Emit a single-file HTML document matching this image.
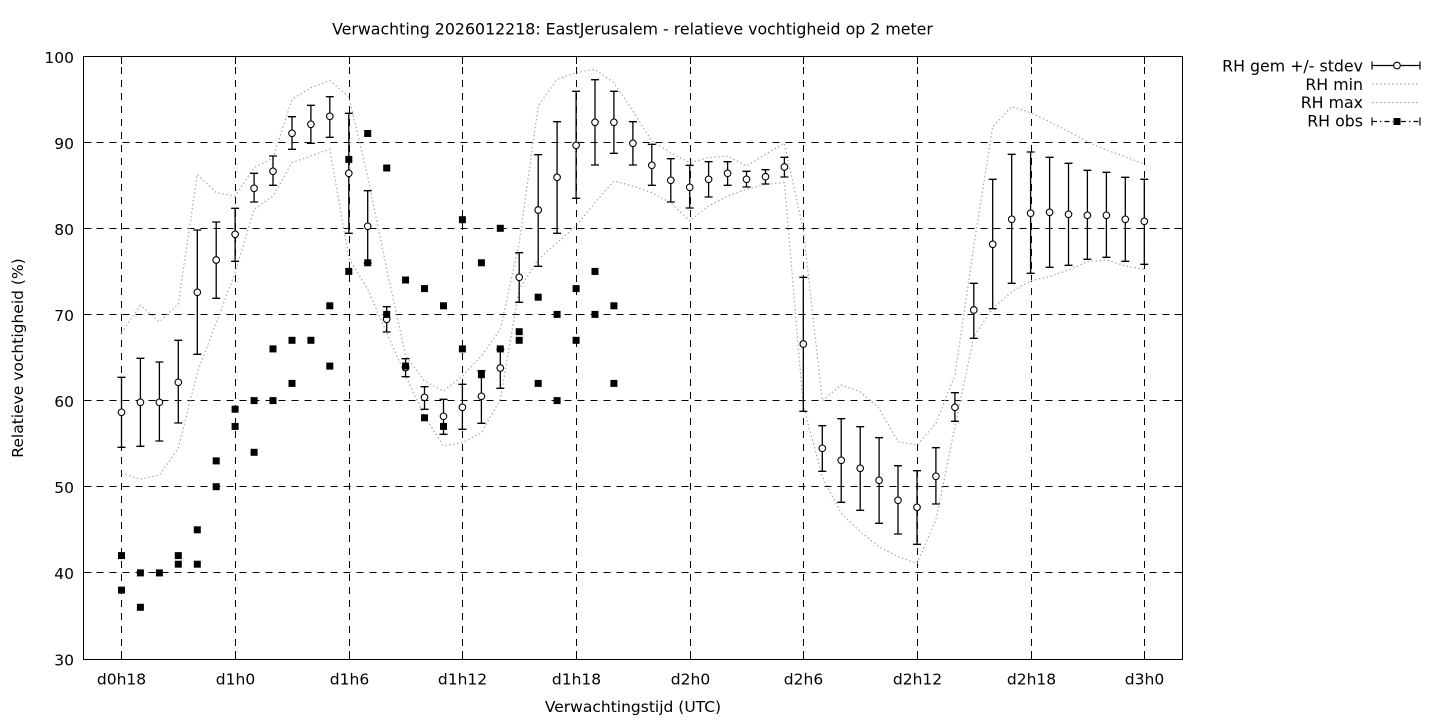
<!DOCTYPE html>
<html>
<head>
<meta charset="utf-8">
<style>
html,body{margin:0;padding:0;background:#fff;}
svg{display:block;}
text{font-family:"DejaVu Sans","Liberation Sans",sans-serif;fill:#000;}
</style>
</head>
<body>
<svg xmlns="http://www.w3.org/2000/svg" width="1440" height="720" viewBox="0 0 1440 720">
<rect x="0" y="0" width="1440" height="720" fill="#fff"/>
<g stroke="#000" stroke-width="1" stroke-dasharray="7 6" fill="none">
<path d="M83.5 142.5H1182M83.5 228.5H1182M83.5 314.5H1182M83.5 400.5H1182M83.5 486.5H1182M83.5 572.5H1182"/>
<path d="M121.5 659V56M235.5 659V56M349.5 659V56M462.5 659V56M576.5 659V56M690.5 659V56M803.5 659V56M917.5 659V56M1031.5 659V56M1144.5 659V56"/>
</g>
<g stroke="#000" stroke-width="1" fill="none">
<path d="M83.5 142.5H91.5M83.5 228.5H91.5M83.5 314.5H91.5M83.5 400.5H91.5M83.5 486.5H91.5M83.5 572.5H91.5"/>
<path d="M1174.5 142.5H1182.5M1174.5 228.5H1182.5M1174.5 314.5H1182.5M1174.5 400.5H1182.5M1174.5 486.5H1182.5M1174.5 572.5H1182.5"/>
<path d="M121.5 659V651M235.5 659V651M349.5 659V651M462.5 659V651M576.5 659V651M690.5 659V651M803.5 659V651M917.5 659V651M1031.5 659V651M1144.5 659V651"/>
<path d="M121.5 56V64M235.5 56V64M349.5 56V64M462.5 56V64M576.5 56V64M690.5 56V64M803.5 56V64M917.5 56V64M1031.5 56V64M1144.5 56V64"/>
</g>
<g stroke="#a8a8a8" stroke-width="1.2" stroke-dasharray="1.5 2.5" fill="none">
<polyline points="121.5,332.7 140.4,305.3 159.4,321.7 178.3,304.3 197.3,174.3 216.2,192.7 235.1,196 254.1,167.7 273,158 292,99.3 310.9,87.7 329.8,80.7 348.8,96.7 367.7,176.7 386.7,269 405.6,356 424.5,381 443.5,391 462.4,376 481.4,356 500.3,329.3 519.2,242.7 538.2,106 557.1,79.3 576.1,72.7 595,69.3 613.9,82.7 632.9,111 651.8,141 670.8,152.7 689.7,162.7 708.6,157.7 727.6,156 746.5,166 765.5,154.3 784.4,143.3 803.3,230 822.3,400.7 841.2,385 860.2,391.7 879.1,408.3 898,441.7 917,445 935.9,423.3 954.9,375 973.8,246.7 992.7,126.7 1011.7,106.7 1030.6,112.7 1049.6,121.7 1068.5,131.7 1087.4,141.7 1106.4,150 1125.3,156.7 1144.3,164"/>
<polyline points="121.5,473.3 140.4,479.3 159.4,475 178.3,448.3 197.3,372.7 216.2,322.7 235.1,272.7 254.1,209.3 273,196 292,162.7 310.9,156 329.8,149 348.8,258 367.7,289.3 386.7,332.7 405.6,376 424.5,416 443.5,446 462.4,442.7 481.4,432.7 500.3,399.3 519.2,289.3 538.2,259.3 557.1,242.7 576.1,226 595,202.7 613.9,181 632.9,186 651.8,192.7 670.8,202.7 689.7,221 708.6,206 727.6,196 746.5,189.3 765.5,184.3 784.4,182.7 803.3,406 822.3,476.7 841.2,513.3 860.2,531.7 879.1,546.7 898,556.7 917,563.3 935.9,520 954.9,426.7 973.8,336.7 992.7,308.3 1011.7,291.7 1030.6,280.7 1049.6,276.7 1068.5,270 1087.4,261.7 1106.4,260 1125.3,266 1144.3,269.3"/>
</g>
<path stroke="#000" stroke-width="1.3" fill="none" d="M121.5 377.3V447.3M117.5 377.3H125.5M117.5 447.3H125.5 M140.4 358.3V446.3M136.4 358.3H144.4M136.4 446.3H144.4 M159.4 362V441M155.4 362H163.4M155.4 441H163.4 M178.3 340.3V423M174.3 340.3H182.3M174.3 423H182.3 M197.3 230V354.3M193.3 230H201.3M193.3 354.3H201.3 M216.2 222V298.3M212.2 222H220.2M212.2 298.3H220.2 M235.1 208.3V261.3M231.1 208.3H239.1M231.1 261.3H239.1 M254.1 173.3V202M250.1 173.3H258.1M250.1 202H258.1 M273 156V185.3M269 156H277M269 185.3H277 M292 116.7V149.3M288 116.7H296M288 149.3H296 M310.9 105.3V143.3M306.9 105.3H314.9M306.9 143.3H314.9 M329.8 96.7V137.3M325.8 96.7H333.8M325.8 137.3H333.8 M348.8 113.3V233.3M344.8 113.3H352.8M344.8 233.3H352.8 M367.7 190.7V263M363.7 190.7H371.7M363.7 263H371.7 M386.7 306.7V332M382.7 306.7H390.7M382.7 332H390.7 M405.6 358.7V376.7M401.6 358.7H409.6M401.6 376.7H409.6 M424.5 386.7V409.3M420.5 386.7H428.5M420.5 409.3H428.5 M443.5 399.3V434.3M439.5 399.3H447.5M439.5 434.3H447.5 M462.4 384.3V429.3M458.4 384.3H466.4M458.4 429.3H466.4 M481.4 370.7V423.3M477.4 370.7H485.4M477.4 423.3H485.4 M500.3 349.3V388.3M496.3 349.3H504.3M496.3 388.3H504.3 M519.2 252.7V302.3M515.2 252.7H523.2M515.2 302.3H523.2 M538.2 154.7V266.3M534.2 154.7H542.2M534.2 266.3H542.2 M557.1 121.7V233.3M553.1 121.7H561.1M553.1 233.3H561.1 M576.1 91.3V198.3M572.1 91.3H580.1M572.1 198.3H580.1 M595 79.7V165M591 79.7H599M591 165H599 M613.9 91.3V153.3M609.9 91.3H617.9M609.9 153.3H617.9 M632.9 121.7V165M628.9 121.7H636.9M628.9 165H636.9 M651.8 144.3V185.3M647.8 144.3H655.8M647.8 185.3H655.8 M670.8 158.7V202M666.8 158.7H674.8M666.8 202H674.8 M689.7 165.3V208M685.7 165.3H693.7M685.7 208H693.7 M708.6 161.7V197M704.6 161.7H712.6M704.6 197H712.6 M727.6 161.7V185.3M723.6 161.7H731.6M723.6 185.3H731.6 M746.5 171.3V187M742.5 171.3H750.5M742.5 187H750.5 M765.5 169.7V184M761.5 169.7H769.5M761.5 184H769.5 M784.4 157.3V177M780.4 157.3H788.4M780.4 177H788.4 M803.3 277.3V411.3M799.3 277.3H807.3M799.3 411.3H807.3 M822.3 425.7V471.3M818.3 425.7H826.3M818.3 471.3H826.3 M841.2 418.7V502.3M837.2 418.7H845.2M837.2 502.3H845.2 M860.2 426.7V510.3M856.2 426.7H864.2M856.2 510.3H864.2 M879.1 437.7V523.3M875.1 437.7H883.1M875.1 523.3H883.1 M898 465.7V534M894 465.7H902M894 534H902 M917 470.7V544.3M913 470.7H921M913 544.3H921 M935.9 447.7V504M931.9 447.7H939.9M931.9 504H939.9 M954.9 392.7V421.3M950.9 392.7H958.9M950.9 421.3H958.9 M973.8 283.3V338.3M969.8 283.3H977.8M969.8 338.3H977.8 M992.7 179.3V308.7M988.7 179.3H996.7M988.7 308.7H996.7 M1011.7 154.3V283.3M1007.7 154.3H1015.7M1007.7 283.3H1015.7 M1030.6 152V273.3M1026.6 152H1034.6M1026.6 273.3H1034.6 M1049.6 157.3V267.3M1045.6 157.3H1053.6M1045.6 267.3H1053.6 M1068.5 163.3V265.3M1064.5 163.3H1072.5M1064.5 265.3H1072.5 M1087.4 170.3V259.3M1083.4 170.3H1091.4M1083.4 259.3H1091.4 M1106.4 172.3V257.3M1102.4 172.3H1110.4M1102.4 257.3H1110.4 M1125.3 177.3V261.3M1121.3 177.3H1129.3M1121.3 261.3H1129.3 M1144.3 179.3V264.3M1140.3 179.3H1148.3M1140.3 264.3H1148.3"/>
<g fill="#fff" stroke="#000" stroke-width="1.1">
<circle cx="121.5" cy="412.3" r="3.3"/><circle cx="140.4" cy="402.3" r="3.3"/><circle cx="159.4" cy="402.3" r="3.3"/><circle cx="178.3" cy="382.3" r="3.3"/>
<circle cx="197.3" cy="292.3" r="3.3"/><circle cx="216.2" cy="260" r="3.3"/><circle cx="235.1" cy="234.3" r="3.3"/><circle cx="254.1" cy="188.3" r="3.3"/>
<circle cx="273" cy="171.3" r="3.3"/><circle cx="292" cy="133.3" r="3.3"/><circle cx="310.9" cy="124.3" r="3.3"/><circle cx="329.8" cy="116.3" r="3.3"/>
<circle cx="348.8" cy="173.3" r="3.3"/><circle cx="367.7" cy="226.3" r="3.3"/><circle cx="386.7" cy="319.3" r="3.3"/><circle cx="405.6" cy="367.5" r="3.3"/>
<circle cx="424.5" cy="397.3" r="3.3"/><circle cx="443.5" cy="416.3" r="3.3"/><circle cx="462.4" cy="407.3" r="3.3"/><circle cx="481.4" cy="396.3" r="3.3"/>
<circle cx="500.3" cy="368" r="3.3"/><circle cx="519.2" cy="277.3" r="3.3"/><circle cx="538.2" cy="210" r="3.3"/><circle cx="557.1" cy="177.3" r="3.3"/>
<circle cx="576.1" cy="145.3" r="3.3"/><circle cx="595" cy="122.3" r="3.3"/><circle cx="613.9" cy="122.3" r="3.3"/><circle cx="632.9" cy="143.3" r="3.3"/>
<circle cx="651.8" cy="165.3" r="3.3"/><circle cx="670.8" cy="180.3" r="3.3"/><circle cx="689.7" cy="187.3" r="3.3"/><circle cx="708.6" cy="179.3" r="3.3"/>
<circle cx="727.6" cy="173.3" r="3.3"/><circle cx="746.5" cy="179.3" r="3.3"/><circle cx="765.5" cy="176.7" r="3.3"/><circle cx="784.4" cy="167" r="3.3"/>
<circle cx="803.3" cy="344" r="3.3"/><circle cx="822.3" cy="448.3" r="3.3"/><circle cx="841.2" cy="460.3" r="3.3"/><circle cx="860.2" cy="468.3" r="3.3"/>
<circle cx="879.1" cy="480.3" r="3.3"/><circle cx="898" cy="500.3" r="3.3"/><circle cx="917" cy="507.3" r="3.3"/><circle cx="935.9" cy="476.3" r="3.3"/>
<circle cx="954.9" cy="407.3" r="3.3"/><circle cx="973.8" cy="310" r="3.3"/><circle cx="992.7" cy="244.3" r="3.3"/><circle cx="1011.7" cy="219.3" r="3.3"/>
<circle cx="1030.6" cy="213.3" r="3.3"/><circle cx="1049.6" cy="212.3" r="3.3"/><circle cx="1068.5" cy="214.3" r="3.3"/><circle cx="1087.4" cy="215.3" r="3.3"/>
<circle cx="1106.4" cy="215.3" r="3.3"/><circle cx="1125.3" cy="219.3" r="3.3"/><circle cx="1144.3" cy="221.3" r="3.3"/>
</g>
<g fill="#000">
<rect x="118" y="552.1" width="7" height="7"/><rect x="118" y="586.6" width="7" height="7"/>
<rect x="136.9" y="569.4" width="7" height="7"/><rect x="136.9" y="603.8" width="7" height="7"/>
<rect x="155.9" y="569.4" width="7" height="7"/>
<rect x="174.8" y="552.1" width="7" height="7"/><rect x="174.8" y="560.7" width="7" height="7"/>
<rect x="193.8" y="526.3" width="7" height="7"/><rect x="193.8" y="560.7" width="7" height="7"/>
<rect x="212.7" y="457.4" width="7" height="7"/><rect x="212.7" y="483.2" width="7" height="7"/>
<rect x="231.6" y="405.7" width="7" height="7"/><rect x="231.6" y="422.9" width="7" height="7"/>
<rect x="250.6" y="397.1" width="7" height="7"/><rect x="250.6" y="448.8" width="7" height="7"/>
<rect x="269.5" y="345.4" width="7" height="7"/><rect x="269.5" y="397.1" width="7" height="7"/>
<rect x="288.5" y="336.8" width="7" height="7"/><rect x="288.5" y="379.9" width="7" height="7"/>
<rect x="307.4" y="336.8" width="7" height="7"/>
<rect x="326.3" y="302.3" width="7" height="7"/><rect x="326.3" y="362.6" width="7" height="7"/>
<rect x="345.3" y="155.9" width="7" height="7"/><rect x="345.3" y="267.9" width="7" height="7"/>
<rect x="364.2" y="130" width="7" height="7"/><rect x="364.2" y="259.3" width="7" height="7"/>
<rect x="383.2" y="164.5" width="7" height="7"/><rect x="383.2" y="310.9" width="7" height="7"/>
<rect x="402.1" y="276.5" width="7" height="7"/><rect x="402.1" y="362.6" width="7" height="7"/>
<rect x="421" y="285.1" width="7" height="7"/><rect x="421" y="414.3" width="7" height="7"/>
<rect x="440" y="302.3" width="7" height="7"/><rect x="440" y="422.9" width="7" height="7"/>
<rect x="458.9" y="216.2" width="7" height="7"/><rect x="458.9" y="345.4" width="7" height="7"/>
<rect x="477.9" y="259.3" width="7" height="7"/><rect x="477.9" y="371.2" width="7" height="7"/>
<rect x="496.8" y="224.8" width="7" height="7"/><rect x="496.8" y="345.4" width="7" height="7"/>
<rect x="515.7" y="328.2" width="7" height="7"/><rect x="515.7" y="336.8" width="7" height="7"/>
<rect x="534.7" y="293.7" width="7" height="7"/><rect x="534.7" y="379.9" width="7" height="7"/>
<rect x="553.6" y="310.9" width="7" height="7"/><rect x="553.6" y="397.1" width="7" height="7"/>
<rect x="572.6" y="285.1" width="7" height="7"/><rect x="572.6" y="336.8" width="7" height="7"/>
<rect x="591.5" y="267.9" width="7" height="7"/><rect x="591.5" y="310.9" width="7" height="7"/>
<rect x="610.4" y="302.3" width="7" height="7"/><rect x="610.4" y="379.9" width="7" height="7"/>
</g>
<rect x="83.5" y="56.5" width="1099" height="603" fill="none" stroke="#000" stroke-width="1"/>
<g font-size="15.5" text-anchor="end">
<text x="74" y="63">100</text>
<text x="74" y="149">90</text>
<text x="74" y="235">80</text>
<text x="74" y="321">70</text>
<text x="74" y="407">60</text>
<text x="74" y="493">50</text>
<text x="74" y="579">40</text>
<text x="74" y="665.5">30</text>
</g>
<g font-size="15.5" text-anchor="middle">
<text x="121.5" y="684.5">d0h18</text>
<text x="235.5" y="684.5">d1h0</text>
<text x="349.5" y="684.5">d1h6</text>
<text x="462.5" y="684.5">d1h12</text>
<text x="576.5" y="684.5">d1h18</text>
<text x="690.5" y="684.5">d2h0</text>
<text x="803.5" y="684.5">d2h6</text>
<text x="917.5" y="684.5">d2h12</text>
<text x="1031.5" y="684.5">d2h18</text>
<text x="1144.5" y="684.5">d3h0</text>
</g>
<text x="632.5" y="34.3" font-size="15.8" text-anchor="middle">Verwachting 2026012218: EastJerusalem - relatieve vochtigheid op 2 meter</text>
<text x="633" y="712" font-size="15.5" text-anchor="middle">Verwachtingstijd (UTC)</text>
<text transform="translate(23,358) rotate(-90)" font-size="15.5" text-anchor="middle">Relatieve vochtigheid (%)</text>
<g font-size="15.8" text-anchor="end">
<text x="1363" y="71.5">RH gem +/- stdev</text>
<text x="1363" y="89.8">RH min</text>
<text x="1363" y="108.2">RH max</text>
<text x="1363" y="126.6">RH obs</text>
</g>
<g stroke="#000" stroke-width="1.2" fill="none">
<path d="M1372 65.5H1420M1372 61.5V69.5M1420 61.5V69.5"/>
<path d="M1372 117.5V125.5M1420 117.5V125.5"/>
<path d="M1372 121.5H1393M1401 121.5H1420" stroke-dasharray="5 3 1.5 3"/>
</g>
<circle cx="1397" cy="65.5" r="3.3" fill="#fff" stroke="#000" stroke-width="1.1"/>
<rect x="1393.5" y="118" width="7" height="7" fill="#000"/>
<g stroke="#a8a8a8" stroke-width="1.2" stroke-dasharray="1.5 2.5" fill="none">
<path d="M1372 84H1420"/>
<path d="M1372 102.5H1420"/>
</g>
</svg>
</body>
</html>
